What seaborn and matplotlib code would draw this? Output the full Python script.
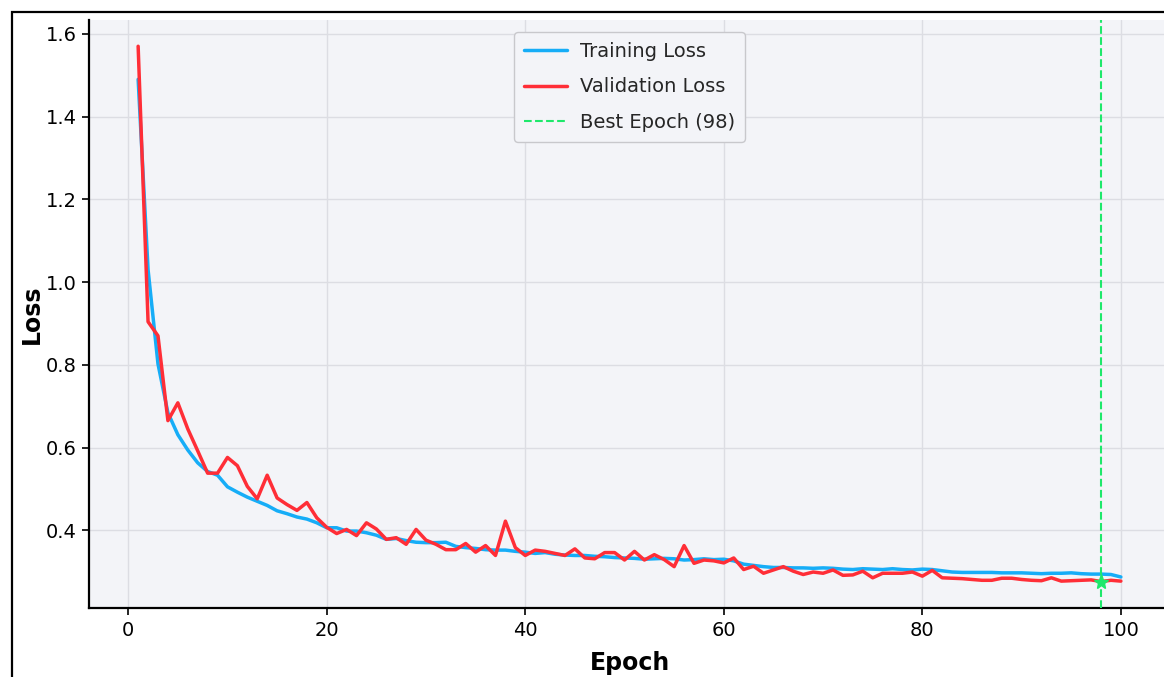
import numpy as np
import pandas as pd
import matplotlib
matplotlib.use("Agg")
import matplotlib.pyplot as plt
from matplotlib.patches import Rectangle
import seaborn as sns

epochs = list(range(1, 101))

train_loss = [
    1.490, 1.030, 0.802, 0.684, 0.631, 0.594, 0.563, 0.542, 0.533, 0.505,
    0.492, 0.480, 0.470, 0.460, 0.447, 0.440, 0.432, 0.427, 0.418, 0.406,
    0.406, 0.398, 0.398, 0.394, 0.388, 0.378, 0.380, 0.375, 0.371, 0.370,
    0.370, 0.371, 0.361, 0.358, 0.356, 0.353, 0.352, 0.352, 0.349, 0.347,
    0.344, 0.346, 0.342, 0.340, 0.339, 0.339, 0.337, 0.336, 0.334, 0.333,
    0.332, 0.330, 0.331, 0.332, 0.331, 0.328, 0.329, 0.331, 0.329, 0.330,
    0.326, 0.318, 0.315, 0.312, 0.310, 0.310, 0.309, 0.309, 0.308, 0.309,
    0.308, 0.306, 0.305, 0.307, 0.306, 0.305, 0.307, 0.305, 0.304, 0.306,
    0.305, 0.302, 0.299, 0.298, 0.298, 0.298, 0.298, 0.297, 0.297, 0.297,
    0.296, 0.295, 0.296, 0.296, 0.297, 0.295, 0.294, 0.294, 0.293, 0.287,
]

val_loss = [
    1.570, 0.904, 0.870, 0.665, 0.708, 0.645, 0.592, 0.538, 0.538, 0.576,
    0.556, 0.506, 0.476, 0.533, 0.478, 0.462, 0.448, 0.467, 0.430, 0.407,
    0.392, 0.402, 0.387, 0.418, 0.403, 0.378, 0.382, 0.366, 0.402, 0.376,
    0.366, 0.353, 0.353, 0.368, 0.347, 0.363, 0.339, 0.422, 0.358, 0.339,
    0.352, 0.349, 0.344, 0.339, 0.355, 0.333, 0.331, 0.346, 0.346, 0.328,
    0.349, 0.328, 0.341, 0.329, 0.312, 0.363, 0.320, 0.328, 0.326, 0.321,
    0.333, 0.305, 0.313, 0.296, 0.304, 0.312, 0.301, 0.293, 0.299, 0.296,
    0.304, 0.291, 0.292, 0.301, 0.285, 0.296, 0.296, 0.296, 0.299, 0.289,
    0.303, 0.285, 0.284, 0.283, 0.281, 0.279, 0.279, 0.284, 0.284, 0.281,
    0.279, 0.278, 0.285, 0.277, 0.278, 0.279, 0.280, 0.276, 0.279, 0.277,
]

best_epoch = 98

labels = ["Training Loss", "Validation Loss", f"Best Epoch ({best_epoch})"]
colors = ["#16adf7", "#ff2e37", "#1ee86b"]

sns.set_theme(style="whitegrid")
plt.rcParams["font.family"] = ["DejaVu Sans"]

fig = plt.figure(figsize=(11.64, 6.77), dpi=100)
fig.patch.set_facecolor("white")
ax = fig.add_axes([89 / 1164, 1 - 608.3 / 677, (1170 - 89) / 1164, (608.3 - 19.5) / 677])
ax.set_facecolor("#f3f4f8")

sns.lineplot(x=epochs, y=train_loss, ax=ax, color=colors[0], linewidth=2.5,
             label=labels[0], zorder=3)
sns.lineplot(x=epochs, y=val_loss, ax=ax, color=colors[1], linewidth=2.5,
             label=labels[1], zorder=4)
ax.axvline(best_epoch, color=colors[2], linestyle="--", linewidth=1.5,
           label=labels[2], zorder=5)
ax.plot([best_epoch], [val_loss[best_epoch - 1]], marker="*", color=colors[2],
        markersize=11, linestyle="none", zorder=6)

ax.grid(True, color="#dcdde3", linewidth=1.0)
for side in ["top", "right"]:
    ax.spines[side].set_visible(False)
for side in ["left", "bottom"]:
    ax.spines[side].set_visible(True)
    ax.spines[side].set_color("black")
    ax.spines[side].set_linewidth(1.6)

ax.tick_params(axis="both", which="major", labelsize=14, length=5, width=1.2,
               color="black", labelcolor="black", bottom=True, left=True, pad=4)

ax.set_xlabel("Epoch", fontsize=17, fontweight="bold", labelpad=8, color="black")
ax.set_ylabel("Loss", fontsize=17, fontweight="bold", labelpad=1, color="black")

leg = ax.legend(loc="upper center", fontsize=14, frameon=True, fancybox=True,
                handlelength=2.2, handletextpad=0.7, labelspacing=0.85,
                borderpad=0.5, bbox_to_anchor=(0.5, 0.995))
leg.get_frame().set_facecolor("#f3f4f8")
leg.get_frame().set_edgecolor("#c8c8cc")
leg.get_frame().set_alpha(1.0)

frame = Rectangle((11.5 / 1164, -0.05), 1.2, (1 - 12 / 677) + 0.05,
                  transform=fig.transFigure, fill=False, edgecolor="black",
                  linewidth=1.6, clip_on=False)
fig.patches.append(frame)

fig.savefig("out.png", dpi=100, facecolor="white")
